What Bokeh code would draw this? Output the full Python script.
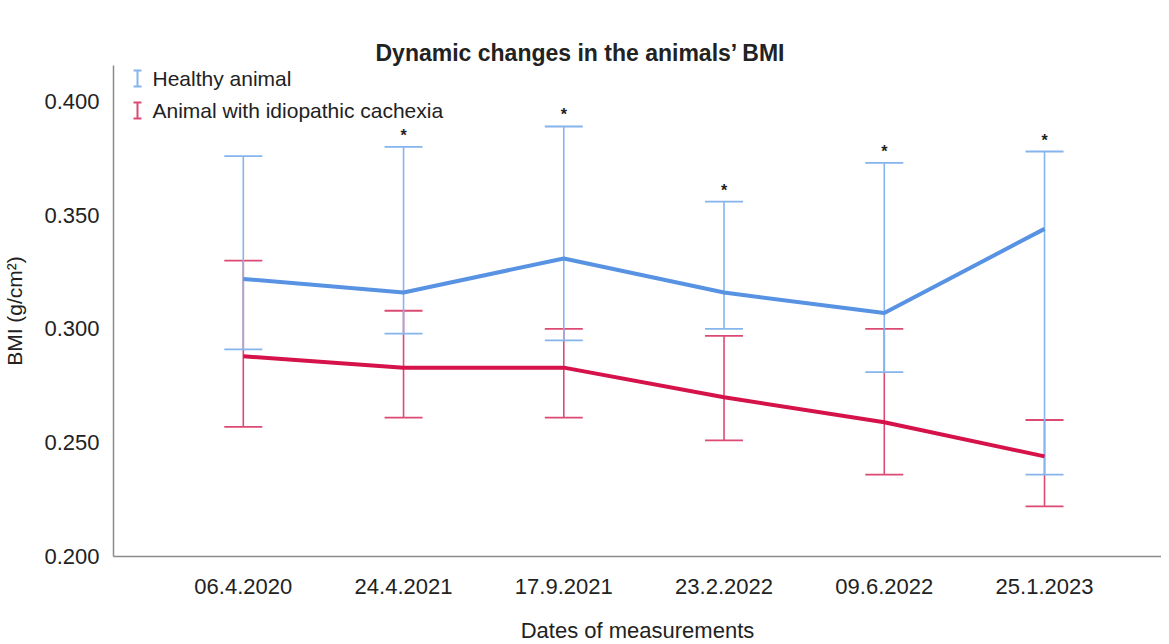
from bokeh.plotting import figure
from bokeh.models import (ColumnDataSource, Whisker, TeeHead, FixedTicker, Range1d,
                          Label, Title, CustomJSTickFormatter)
from bokeh.core.properties import value
from bokeh.embed import file_html
from bokeh.resources import INLINE

dates = ["06.4.2020", "24.4.2021", "17.9.2021", "23.2.2022", "09.6.2022", "25.1.2023"]
xpos = [1, 2, 3, 4, 5, 6]

healthy_mean = [0.322, 0.316, 0.331, 0.316, 0.307, 0.344]
healthy_upper = [0.376, 0.380, 0.389, 0.356, 0.373, 0.378]
healthy_lower = [0.291, 0.298, 0.295, 0.300, 0.281, 0.236]

cachexia_mean = [0.288, 0.283, 0.283, 0.270, 0.259, 0.244]
cachexia_upper = [0.330, 0.308, 0.300, 0.297, 0.300, 0.260]
cachexia_lower = [0.257, 0.261, 0.261, 0.251, 0.236, 0.222]

significance = ["", "*", "*", "*", "*", "*"]

FONT = "Liberation Sans"
BLUE_LINE = "#5892e2"
BLUE_BAR = "#86b4ec"
RED_LINE = "#d5124a"
RED_BAR = "#dc4a73"

FRAME_W, FRAME_H = 1048, 491

p = figure(frame_width=FRAME_W, frame_height=FRAME_H, output_backend="svg",
           toolbar_location=None,
           x_range=Range1d(0.19, 6.73), y_range=Range1d(0.2, 0.4158),
           min_border_left=108, min_border_right=0, min_border_top=65,
           min_border_bottom=72)

p.title.text = "Dynamic changes in the animals\u2019 BMI"
p.title.align = "left"
p.title.offset = 262
p.title.standoff = 0
p.title.text_font = FONT
p.title.text_font_size = "23px"
p.title.text_font_style = "bold"
p.title.text_color = "#222222"

# invisible spacer between the title and the frame
p.add_layout(Title(text=".", text_font_size="10px", text_alpha=0, standoff=18), "above")

hs = ColumnDataSource(dict(x=xpos, mean=healthy_mean, upper=healthy_upper,
                           lower=healthy_lower, sig=significance))
cs = ColumnDataSource(dict(x=xpos, mean=cachexia_mean, upper=cachexia_upper,
                           lower=cachexia_lower))

def whisk(src, color):
    w = Whisker(source=src, base="x", upper="upper", lower="lower", dimension="height",
                line_color=color, line_width=1.6,
                upper_head=TeeHead(size=38, line_color=color, line_width=1.8),
                lower_head=TeeHead(size=38, line_color=color, line_width=1.8))
    p.add_layout(w)

whisk(cs, RED_BAR)
whisk(hs, BLUE_BAR)

p.line("x", "mean", source=hs, line_color=BLUE_LINE, line_width=4)
p.line("x", "mean", source=cs, line_color=RED_LINE, line_width=4)

p.text("x", "upper", text="sig", source=hs, text_align="center", text_baseline="bottom",
       y_offset=-3, text_font=value(FONT), text_font_size="16px",
       text_font_style="bold", text_color="#222222")

# legend (screen units relative to frame)
legend_rows = [("Healthy animal", BLUE_BAR, FRAME_H - 13),
               ("Animal with idiopathic cachexia", RED_BAR, FRAME_H - 45)]
for label, color, yy in legend_rows:
    ls = ColumnDataSource(dict(b=[24], u=[yy + 8], l=[yy - 8]))
    p.add_layout(Whisker(source=ls, base="b", upper="u", lower="l", dimension="height",
                         base_units="screen", upper_units="screen", lower_units="screen",
                         line_color=color, line_width=2,
                         upper_head=TeeHead(size=8, line_color=color, line_width=2),
                         lower_head=TeeHead(size=8, line_color=color, line_width=2)))
    p.add_layout(Label(x=39, y=yy, x_units="screen", y_units="screen", text=label,
                       text_baseline="middle", text_font=FONT, text_font_size="21px",
                       text_color="#222222"))

p.xaxis.ticker = FixedTicker(ticks=xpos)
p.xaxis.major_label_overrides = {x: d for x, d in zip(xpos, dates)}
p.yaxis.ticker = FixedTicker(ticks=[0.2, 0.25, 0.3, 0.35, 0.4])
p.yaxis.formatter = CustomJSTickFormatter(code="return tick.toFixed(3);")

for ax in (p.xaxis, p.yaxis):
    ax.major_tick_line_color = None
    ax.minor_tick_line_color = None
    ax.axis_line_color = "#8a8a8a"
    ax.axis_line_width = 1.5
    ax.major_label_text_font = FONT
    ax.major_label_text_font_size = "22px"
    ax.major_label_text_color = "#222222"
    ax.axis_label_text_font = FONT
    ax.axis_label_text_font_style = "normal"
    ax.axis_label_text_color = "#222222"

p.xaxis.axis_label = "Dates of measurements"
p.yaxis.axis_label = "BMI (g/cm\u00b2)"
p.xaxis.axis_label_text_font_size = "22px"
p.yaxis.axis_label_text_font_size = "21px"
p.xaxis.major_label_standoff = 16
p.yaxis.major_label_standoff = 8
p.xaxis.axis_label_standoff = 21
p.yaxis.axis_label_standoff = 15

p.xgrid.grid_line_color = None
p.ygrid.grid_line_color = None
p.outline_line_color = None
p.background_fill_color = "white"
p.border_fill_color = "white"

open("out.html", "w").write(file_html(p, INLINE))
